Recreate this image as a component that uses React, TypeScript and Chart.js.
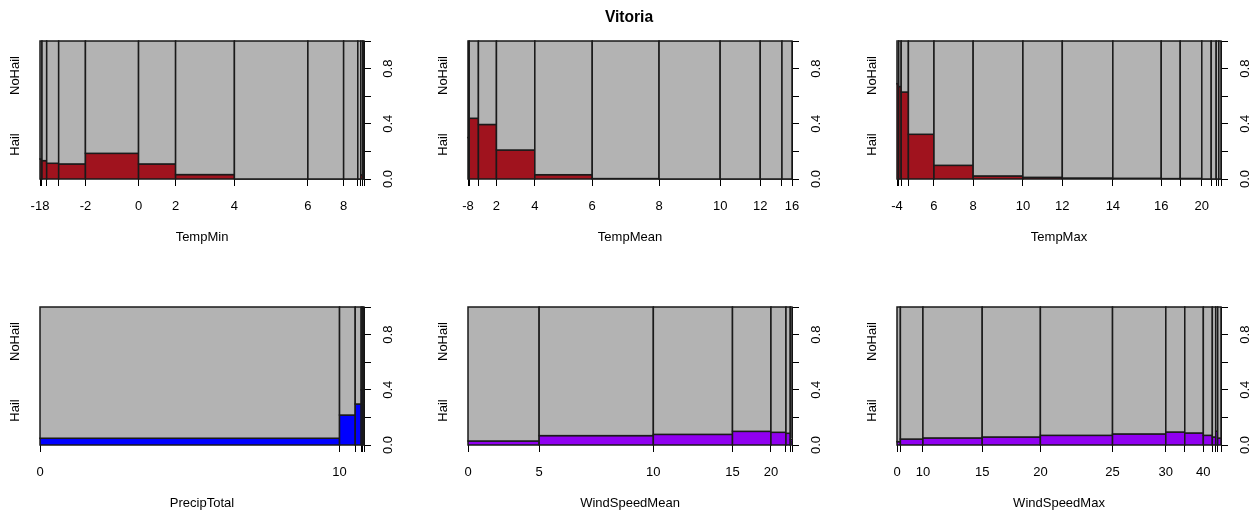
import React, { useEffect, useRef } from 'react';
import { Chart, registerables } from 'chart.js';

Chart.register(...registerables);

const FONT = '"Liberation Sans", Arial, Helvetica, sans-serif';

// ---- data ----
const tempMinBreaks = [-18, -8, -6, -4, -2, 0, 2, 4, 6, 8, 10, 12, 14, 16];
const tempMinCounts = [20, 47, 120, 268, 532, 371, 589, 736, 358, 142, 30, 20, 12];
const tempMinHail = [0.145, 0.133, 0.114, 0.109, 0.186, 0.109, 0.032, 0, 0, 0, 0, 0.03, 0];
const tempMinLabels = ['-18', '', '', '', '-2', '0', '2', '4', '6', '8', '', '', '', ''];

const tempMeanBreaks = [-8, -2, 0, 2, 4, 6, 8, 10, 12, 14, 16];
const tempMeanCounts = [12, 92, 180, 383, 573, 667, 610, 400, 217, 100];
const tempMeanHail = [0.3, 0.44, 0.395, 0.21, 0.031, 0.003, 0, 0, 0, 0];
const tempMeanLabels = ['-8', '', '', '2', '4', '6', '8', '10', '12', '', '16'];

const tempMaxBreaks = [-4, 0, 2, 4, 6, 8, 10, 12, 14, 16, 18, 20, 22, 24, 26, 28];
const tempMaxCounts = [17, 25, 72, 256, 392, 498, 394, 506, 484, 190, 216, 94, 50, 26, 22];
const tempMaxHail = [0.69, 0.67, 0.63, 0.324, 0.099, 0.022, 0.012, 0.007, 0.005, 0.003, 0.004, 0, 0, 0, 0];
const tempMaxLabels = ['-4', '', '', '', '6', '8', '10', '12', '14', '16', '', '20', '', '', '', ''];

const precipBreaks = [0, 10, 20, 30, 40, 50];
const precipCounts = [3000, 157, 60, 16, 12];
const precipHail = [0.049, 0.217, 0.297, 0.4, 0.3];
const precipLabels = ['0', '10', '', '', '', ''];

const windMeanBreaks = [0, 5, 10, 15, 20, 25, 30, 35];
const windMeanCounts = [710, 1140, 790, 384, 150, 43, 17];
const windMeanHail = [0.029, 0.068, 0.077, 0.099, 0.092, 0.085, 0.04];
const windMeanLabels = ['0', '5', '10', '15', '20', '', '', ''];

const windMaxBreaks = [0, 5, 10, 15, 20, 25, 30, 35, 40, 45, 50, 55, 60];
const windMaxCounts = [34, 226, 594, 583, 723, 534, 190, 186, 90, 34, 20, 33];
const windMaxHail = [0.024, 0.043, 0.051, 0.058, 0.07, 0.08, 0.094, 0.087, 0.07, 0.058, 0.1, 0.05];
const windMaxLabels = ['0', '', '10', '15', '20', '25', '30', '', '40', '', '', '', ''];

const yLevelLabels = ['Hail', 'NoHail'];
const yLevelPositions = [0.25, 0.75];
const yTicks = [0, 0.2, 0.4, 0.6, 0.8, 1];
const yTickLabels = ['0.0', '', '0.4', '', '0.8', ''];

const TITLE = 'Vitoria';
const GRAY = '#B3B3B3';
const RED = '#A0131E';
const BLUE = '#0000FF';
const PURPLE = '#9000F0';

type Panel = {
  name: string;
  breaks: number[];
  counts: number[];
  hail: number[];
  labels: string[];
  color: string;
  row: number;
  col: number;
};

const panels: Panel[] = [
  { name: 'TempMin', breaks: tempMinBreaks, counts: tempMinCounts, hail: tempMinHail, labels: tempMinLabels, color: RED, row: 0, col: 0 },
  { name: 'TempMean', breaks: tempMeanBreaks, counts: tempMeanCounts, hail: tempMeanHail, labels: tempMeanLabels, color: RED, row: 0, col: 1 },
  { name: 'TempMax', breaks: tempMaxBreaks, counts: tempMaxCounts, hail: tempMaxHail, labels: tempMaxLabels, color: RED, row: 0, col: 2 },
  { name: 'PrecipTotal', breaks: precipBreaks, counts: precipCounts, hail: precipHail, labels: precipLabels, color: BLUE, row: 1, col: 0 },
  { name: 'WindSpeedMean', breaks: windMeanBreaks, counts: windMeanCounts, hail: windMeanHail, labels: windMeanLabels, color: PURPLE, row: 1, col: 1 },
  { name: 'WindSpeedMax', breaks: windMaxBreaks, counts: windMaxCounts, hail: windMaxHail, labels: windMaxLabels, color: PURPLE, row: 1, col: 2 },
];

const COL_LEFT = [0, 428, 857];
const ROW_TOP = [0, 266];
const LEFT_W = 40;
const PLOT_W = 324;
const RIGHT_W = 33;
const TOP_PAD = 41;
const PLOT_H = 138;
const XAXIS_H = 66;
const CANVAS_W = LEFT_W + PLOT_W + RIGHT_W;
const CANVAS_H = TOP_PAD + PLOT_H + XAXIS_H;

function cumulative(counts: number[]): number[] {
  const total = counts.reduce((a, b) => a + b, 0);
  const out = [0];
  let s = 0;
  for (const c of counts) {
    s += c;
    out.push(s / total);
  }
  out[out.length - 1] = 1;
  return out;
}

function makeSpinePlugin(p: Panel, cum: number[]) {
  return {
    id: 'spine-' + p.name,
    beforeDatasetsDraw(chart: any) {
      const { ctx } = chart;
      const x = chart.scales.x;
      const y = chart.scales.y;
      ctx.save();
      ctx.lineWidth = 1.5;
      ctx.strokeStyle = '#1a1a1a';
      for (let i = 0; i < p.counts.length; i++) {
        const x0 = x.getPixelForValue(cum[i]);
        const x1 = x.getPixelForValue(cum[i + 1]);
        const y0 = y.getPixelForValue(0);
        const yh = y.getPixelForValue(p.hail[i]);
        const y1 = y.getPixelForValue(1);
        // Hail segment
        ctx.fillStyle = p.color;
        ctx.fillRect(x0, yh, x1 - x0, y0 - yh);
        ctx.strokeRect(x0, yh, x1 - x0, y0 - yh);
        // NoHail segment
        ctx.fillStyle = GRAY;
        ctx.fillRect(x0, y1, x1 - x0, yh - y1);
        ctx.strokeRect(x0, y1, x1 - x0, yh - y1);
      }
      ctx.restore();
    },
  };
}

function buildChart(canvas: HTMLCanvasElement, p: Panel) {
  const cum = cumulative(p.counts);
  const font = { family: FONT, size: 13 };
  const points = p.counts.map((_, i) => ({ x: (cum[i] + cum[i + 1]) / 2, y: p.hail[i] }));
  return new Chart(canvas, {
    type: 'scatter',
    data: {
      datasets: [
        { data: points, pointRadius: 0, pointHoverRadius: 0, showLine: false, xAxisID: 'x', yAxisID: 'y' },
      ],
    },
    options: {
      animation: false,
      responsive: false,
      devicePixelRatio: 1,
      events: [],
      layout: { padding: { left: 0, right: 0, top: TOP_PAD, bottom: 0 } },
      plugins: { legend: { display: false }, tooltip: { enabled: false }, title: { display: false } },
      scales: {
        x: {
          type: 'linear',
          position: 'bottom',
          min: 0,
          max: 1,
          afterBuildTicks: (s: any) => {
            s.ticks = cum.map((v) => ({ value: v }));
          },
          afterFit: (s: any) => {
            s.height = XAXIS_H;
          },
          ticks: {
            autoSkip: false,
            maxRotation: 0,
            minRotation: 0,
            padding: 13,
            color: '#000',
            font,
            callback: (_v: any, i: number) => p.labels[i] ?? '',
          },
          grid: { display: true, drawOnChartArea: false, drawTicks: true, tickLength: 7, color: '#000', lineWidth: 1 },
          border: { display: false },
          title: { display: true, text: p.name, color: '#000', font, padding: { top: 0, bottom: 0 } },
        },
        y: {
          type: 'linear',
          position: 'right',
          min: 0,
          max: 1,
          afterBuildTicks: (s: any) => {
            s.ticks = yTicks.map((v) => ({ value: v }));
          },
          afterFit: (s: any) => {
            s.width = RIGHT_W;
          },
          ticks: {
            autoSkip: false,
            minRotation: 90,
            maxRotation: 90,
            crossAlign: 'center',
            padding: 8,
            color: '#000',
            font,
            callback: (_v: any, i: number) => yTickLabels[i] ?? '',
          },
          grid: { display: true, drawOnChartArea: false, drawTicks: true, tickLength: 7, color: '#000', lineWidth: 1 },
          border: { display: true, color: '#000', width: 1 },
        },
        yl: {
          type: 'linear',
          position: 'left',
          display: true,
          min: 0,
          max: 1,
          afterBuildTicks: (s: any) => {
            s.ticks = yLevelPositions.map((v) => ({ value: v }));
          },
          afterFit: (s: any) => {
            s.width = LEFT_W;
          },
          ticks: {
            autoSkip: false,
            minRotation: 90,
            maxRotation: 90,
            crossAlign: 'center',
            padding: 5,
            color: '#000',
            font,
            callback: (_v: any, i: number) => yLevelLabels[i] ?? '',
          },
          grid: { display: false, drawTicks: false },
          border: { display: false },
        },
      },
    } as any,
    plugins: [makeSpinePlugin(p, cum)],
  });
}

export default function App() {
  const refs = useRef<(HTMLCanvasElement | null)[]>([]);

  useEffect(() => {
    document.body.style.margin = '0';
    const charts = panels.map((p, i) => buildChart(refs.current[i] as HTMLCanvasElement, p));
    return () => charts.forEach((c) => c.destroy());
  }, []);

  return (
    <div
      style={{
        position: 'absolute',
        left: 0,
        top: 0,
        width: 1258,
        height: 512,
        overflow: 'hidden',
        background: '#fff',
      }}
    >
      {panels.map((p, i) => (
        <canvas
          key={p.name}
          ref={(el) => {
            refs.current[i] = el;
          }}
          width={CANVAS_W}
          height={CANVAS_H}
          style={{
            position: 'absolute',
            left: COL_LEFT[p.col],
            top: ROW_TOP[p.row],
            width: CANVAS_W,
            height: CANVAS_H,
            display: 'block',
          }}
        />
      ))}
      <div
        style={{
          position: 'absolute',
          left: 0,
          top: 8,
          width: 1258,
          textAlign: 'center',
          fontFamily: FONT,
          fontWeight: 'bold',
          fontSize: 15.6,
          lineHeight: '18px',
          color: '#000',
        }}
      >
        {TITLE}
      </div>
    </div>
  );
}
